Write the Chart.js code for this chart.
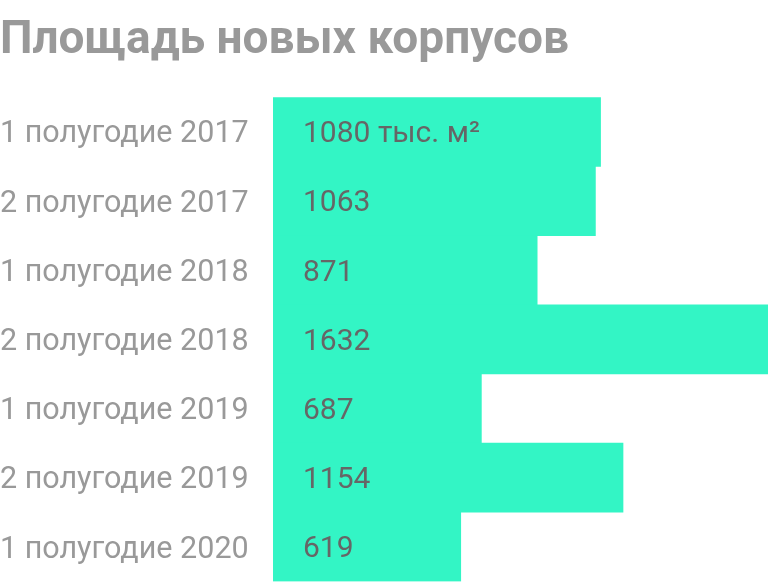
<!DOCTYPE html>
<html>
<head>
<meta charset="utf-8">
<script src="https://cdn.jsdelivr.net/npm/chart.js@4/dist/chart.umd.min.js"></script>
<style>
  html, body { margin: 0; padding: 0; background: #fff; }
  #wrap { width: 768px; height: 583px; }
</style>
</head>
<body>
<div id="wrap"><canvas id="chart"></canvas></div>
<script>
// data
const categories = ['1 полугодие 2017', '2 полугодие 2017', '1 полугодие 2018', '2 полугодие 2018',
                    '1 полугодие 2019', '2 полугодие 2019', '1 полугодие 2020'];
const values = [1080, 1063, 871, 1632, 687, 1154, 619];
const valueLabels = ['1080 тыс. м²', '1063', '871', '1632', '687', '1154', '619'];

// write the value inside each bar, near its left end
const barText = {
  id: 'barText',
  afterDatasetsDraw(chart) {
    const ctx = chart.ctx;
    const meta = chart.getDatasetMeta(0);
    ctx.save();
    ctx.font = '30px Roboto';
    ctx.fillStyle = '#666666';
    ctx.textBaseline = 'middle';
    ctx.textAlign = 'left';
    meta.data.forEach((bar, i) => {
      ctx.fillText(valueLabels[i], bar.base + 30, bar.y + 3);
    });
    ctx.restore();
  }
};

new Chart(document.getElementById('chart'), {
  type: 'bar',
  data: {
    labels: categories,
    datasets: [{
      data: values,
      backgroundColor: '#33f5c5',
      borderWidth: 0,
      barPercentage: 1,
      categoryPercentage: 1
    }]
  },
  options: {
    indexAxis: 'y',
    responsive: true,
    maintainAspectRatio: false,
    animation: false,
    layout: { padding: { left: 0, right: 0, top: 0, bottom: 1 } },
    plugins: {
      legend: { display: false },
      tooltip: { enabled: false },
      title: {
        display: true,
        text: 'Площадь новых корпусов',
        align: 'start',
        color: '#999999',
        font: { family: 'Roboto', size: 46, weight: 'bold', lineHeight: 1.2 },
        padding: { top: 14, bottom: 28 }
      }
    },
    scales: {
      x: { display: false, min: 0, max: 1632 },
      y: {
        grid: { display: false, drawTicks: false },
        border: { display: false },
        ticks: {
          crossAlign: 'far',
          color: '#999999',
          padding: 0,
          labelOffset: 3,
          font: { family: 'Roboto', size: 30.5, lineHeight: 0.1 }
        },
        afterFit(scale) { scale.width = 273; }
      }
    }
  },
  plugins: [barText]
});
</script>
</body>
</html>
